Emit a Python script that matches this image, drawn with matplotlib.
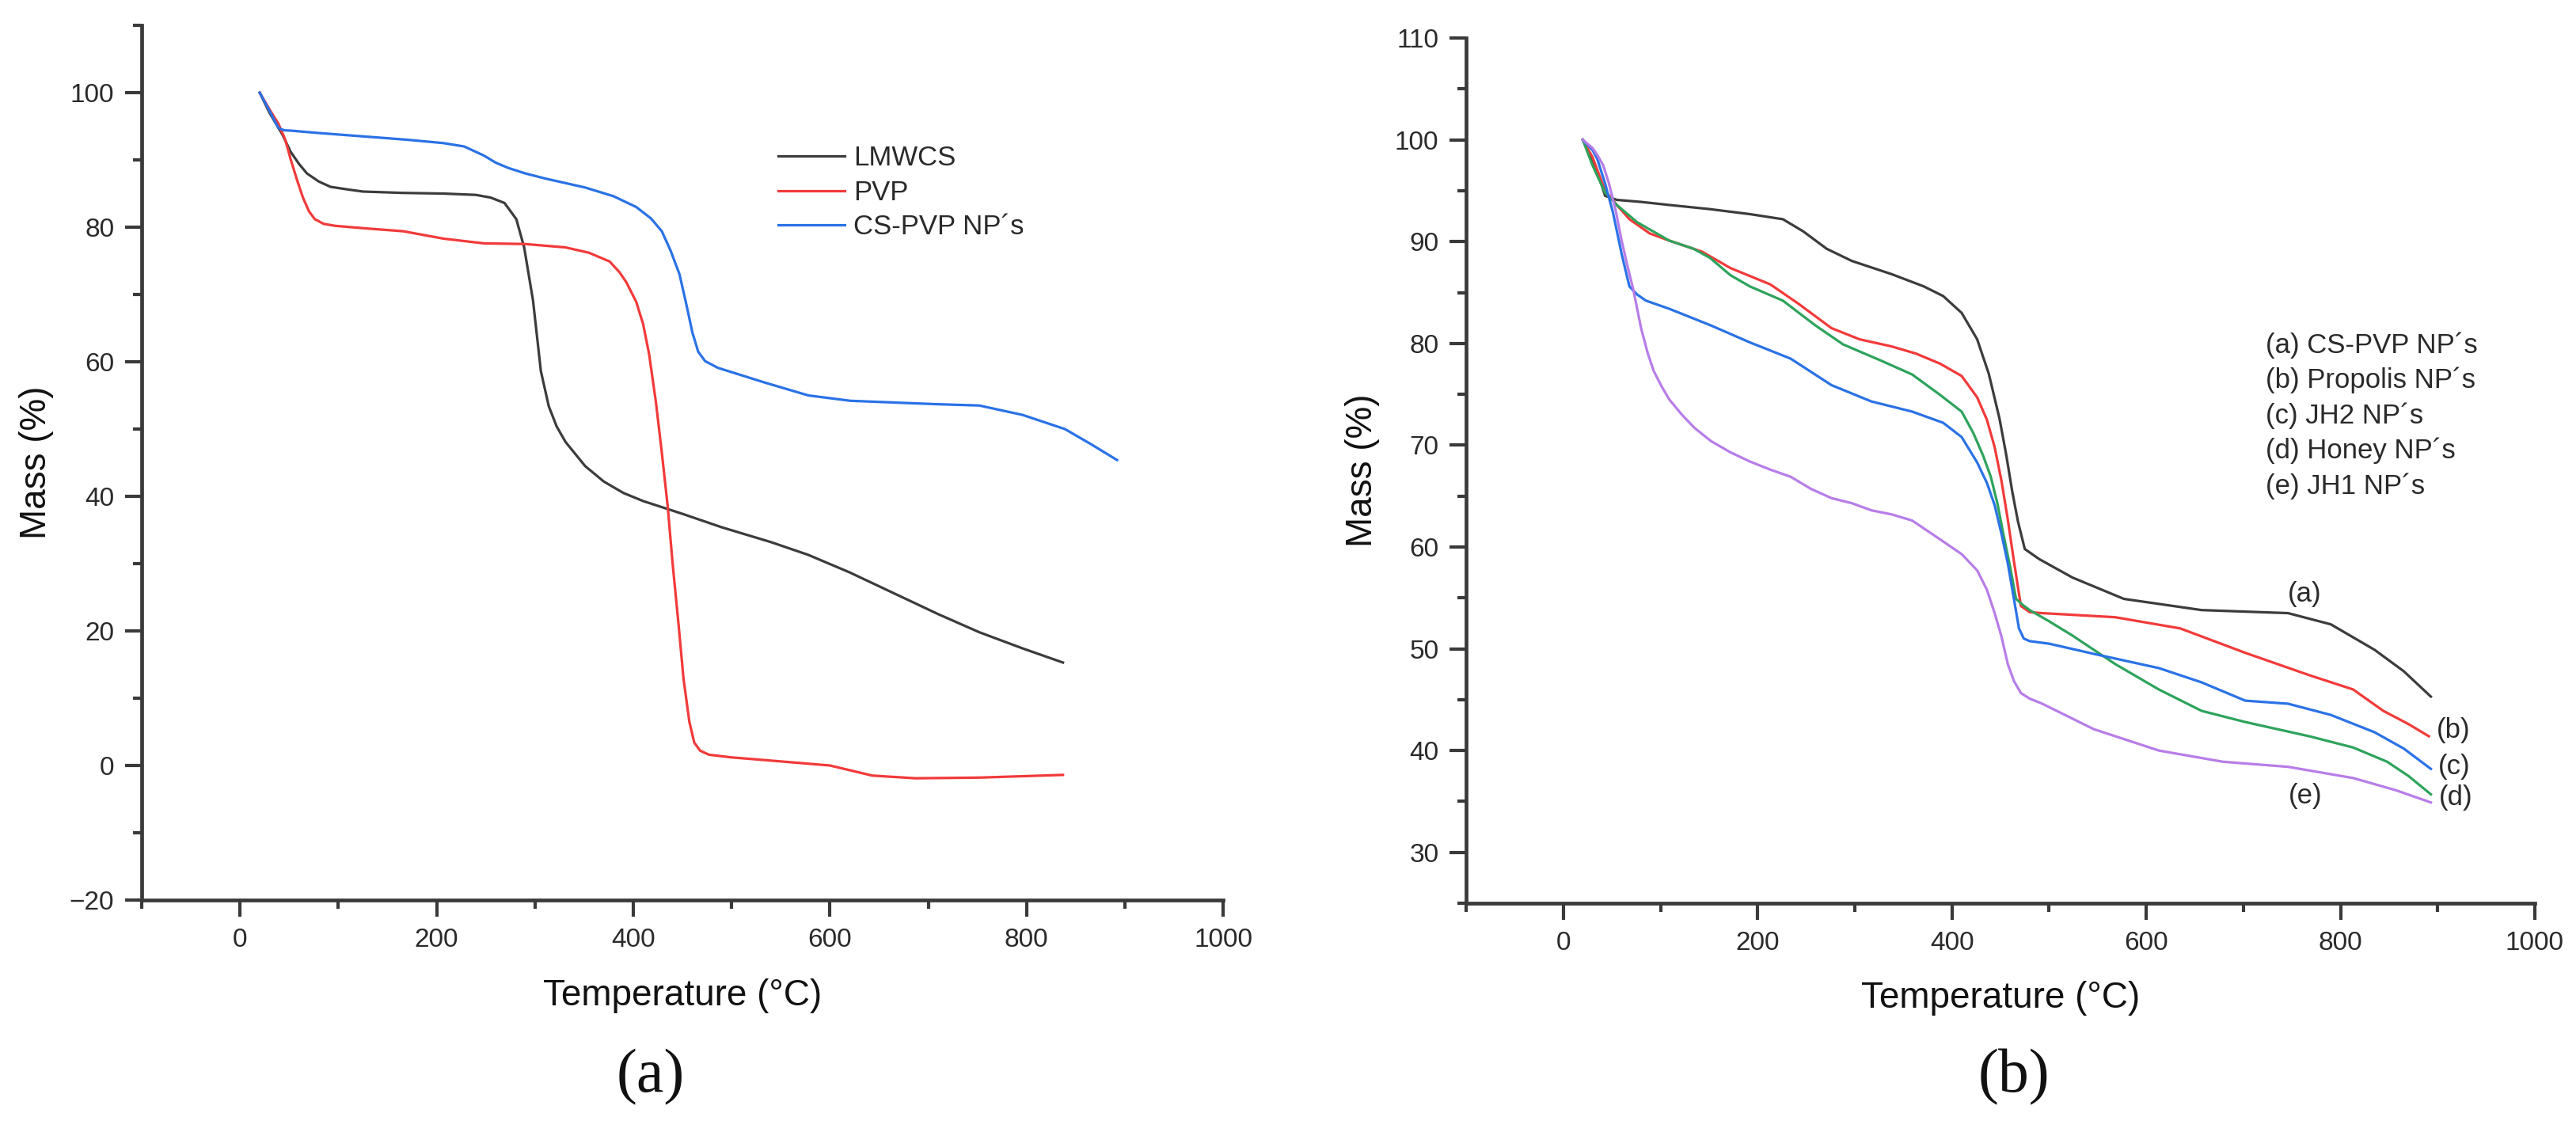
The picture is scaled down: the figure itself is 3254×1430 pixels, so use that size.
import matplotlib
matplotlib.use("Agg")
import matplotlib.pyplot as plt
from matplotlib.ticker import MultipleLocator

# ----------------------------
# Data
# ----------------------------
# Panel (a)
lmwcs_t = [20, 30, 43, 51.5, 60, 68, 80, 92, 110, 125, 165, 207, 240, 255, 269, 281,
           289, 298, 306, 314, 322, 331, 351, 370, 390, 410, 450, 490, 540, 578, 620, 665,
           710, 752, 796, 837]
lmwcs_m = [100, 97, 93.8, 91.2, 89.4, 88, 86.8, 86, 85.6, 85.3, 85.1, 85, 84.8, 84.4, 83.6,
           81.2, 77, 69.1, 58.6, 53.4, 50.4, 48.1, 44.5, 42.2, 40.5, 39.3, 37.4, 35.4, 33.2,
           31.3, 28.7, 25.6, 22.5, 19.8, 17.4, 15.3]

pvp_t = [20, 30, 39, 46, 51.5, 58, 64, 70, 76, 85, 97, 130, 166, 207, 248, 290, 331, 355,
         376, 386, 393, 403, 410, 416, 423, 429, 435, 440, 446, 451, 457, 462, 468, 477,
         500, 534, 600, 643, 687, 752, 837]
pvp_m = [100, 97.5, 95.4, 93, 90.1, 87, 84.4, 82.4, 81.2, 80.5, 80.2, 79.8, 79.4, 78.3,
         77.6, 77.5, 77.0, 76.2, 74.9, 73.3, 71.8, 68.9, 65.6, 61.2, 54.0, 46.5, 38.5, 30.0,
         21.0, 13.0, 6.5, 3.4, 2.2, 1.6, 1.2, 0.8, 0.0, -1.5, -1.9, -1.8, -1.4]

cspvp_t = [20, 30, 39, 45, 52, 80, 125, 170, 207, 228, 248, 260, 273, 290, 310, 351, 380,
           403, 418, 429, 438, 447, 454, 460, 466, 473, 486, 510, 534, 578, 621, 708, 752,
           796, 839, 865, 892]
cspvp_m = [100, 97.3, 94.75, 94.4, 94.35, 94.0, 93.5, 93.0, 92.5, 92, 90.65, 89.6, 88.8,
           88.0, 87.25, 85.9, 84.6, 83.0, 81.3, 79.4, 76.5, 73, 68.5, 64.4, 61.5, 60.1, 59.1,
           58.0, 56.9, 55, 54.2, 53.7, 53.5, 52.1, 50, 47.8, 45.4]

labels_a = ["LMWCS", "PVP", "CS-PVP NP\u00b4s"]

# Panel (b)
cs_t = [20, 30, 38, 43, 55, 80, 109, 150, 192, 226, 247, 271, 297, 338, 371, 391, 410, 426,
        438, 449, 456, 462, 468, 475, 490, 524, 577, 657, 746, 790, 835, 865, 893]
cs_m = [100, 98, 96, 94.5, 94.1, 93.9, 93.6, 93.2, 92.7, 92.2, 91.0, 89.3, 88.1, 86.8, 85.6,
        84.65, 83, 80.4, 77, 72.6, 69, 65.5, 62.5, 59.8, 58.8, 57.0, 54.9, 53.8, 53.5, 52.4,
        49.9, 47.8, 45.3]

prop_t = [20, 30, 43, 55, 68, 89, 109, 143, 172, 213, 242, 276, 305, 338, 363, 388, 410,
          426, 436, 444, 451, 457.5, 464, 471, 480, 493, 568, 635, 702, 768, 813, 844, 870, 891]
prop_m = [100, 98.3, 95, 93.6, 92.2, 90.8, 90.1, 89.0, 87.4, 85.8, 83.9, 81.5, 80.4, 79.7,
          79.0, 78.0, 76.8, 74.7, 72.5, 69.8, 66.5, 62.7, 58.5, 54.2, 53.6, 53.5, 53.1, 52.0,
          49.6, 47.4, 46.0, 43.9, 42.6, 41.4]

jh2_t = [20, 30, 35, 43, 51, 60, 68, 76, 85, 109, 151, 192, 234, 276, 317, 359, 391, 410,
         426, 436, 444, 451, 457.5, 464, 469, 474, 480, 500, 546, 613, 657, 702, 746, 790,
         835, 865, 893]
jh2_m = [100, 99, 98.1, 95.7, 92.9, 88.8, 85.6, 84.8, 84.2, 83.4, 81.8, 80.1, 78.5, 75.9,
         74.3, 73.3, 72.2, 70.8, 68.3, 66.3, 64.1, 61.3, 58.4, 54.8, 52.0, 51.0, 50.75, 50.5,
         49.5, 48.1, 46.7, 44.9, 44.6, 43.5, 41.8, 40.2, 38.2]

honey_t = [20, 30, 43, 55, 76, 109, 134, 151, 172, 192, 226, 259, 288, 326, 359, 387, 410,
           422, 432, 440, 447, 453, 460, 466, 473, 480, 500, 524, 568, 613, 657, 702, 768,
           813, 848, 870, 893]
honey_m = [100, 97.5, 94.8, 93.6, 91.9, 90.1, 89.3, 88.4, 86.7, 85.6, 84.2, 81.8, 79.9,
           78.35, 76.95, 75.0, 73.3, 71.2, 69, 66.9, 64.2, 61.25, 58, 54.9, 54.3, 53.8, 52.7,
           51.3, 48.5, 46.0, 43.9, 42.8, 41.4, 40.3, 38.9, 37.5, 35.7]

jh1_t = [20, 30, 35, 41, 47, 54, 60, 66, 72, 80, 87, 93, 101, 109, 122, 135, 152, 172, 192,
         213, 234, 255, 276, 297, 317, 338, 359, 387, 410, 426, 436, 444, 451, 457.5, 464,
         471, 480, 493, 546, 613, 679, 746, 813, 857, 893]
jh1_m = [100, 99.2, 98.5, 97.5, 95.7, 93, 90.1, 87.6, 85.3, 81.5, 79, 77.3, 75.8, 74.5, 73,
         71.7, 70.4, 69.3, 68.4, 67.6, 66.9, 65.7, 64.8, 64.3, 63.6, 63.2, 62.6, 60.8, 59.3,
         57.7, 55.8, 53.5, 51.2, 48.5, 46.8, 45.65, 45.1, 44.6, 42.1, 40.0, 38.9, 38.4, 37.3,
         36.1, 34.9]

labels_b = ["(a) CS-PVP NP\u00b4s", "(b) Propolis NP\u00b4s", "(c) JH2 NP\u00b4s",
            "(d) Honey NP\u00b4s", "(e) JH1 NP\u00b4s"]
tags_b = ["(a)", "(b)", "(c)", "(d)", "(e)"]
tag_x = [763, 916, 917, 919, 764]
tag_y = [55.4, 42.0, 38.4, 35.35, 35.5]

# ----------------------------
# Style
# ----------------------------
plt.rcParams['font.family'] = ['Liberation Sans', 'DejaVu Sans']
AX_COL = "#3a3a3a"
TXT_COL = "#2a2a2a"
BLACK = "#3c3c3c"
RED = "#f23a3a"
BLUE = "#2a72e6"
GREEN = "#2ea35c"
PURPLE = "#b77de8"
LW = 2.3


def style_axes(ax):
    for side in ["top", "right"]:
        ax.spines[side].set_visible(False)
    for side in ["left", "bottom"]:
        ax.spines[side].set_linewidth(3.4)
        ax.spines[side].set_color(AX_COL)
    ax.tick_params(which="major", direction="out", length=15, width=3, color=AX_COL,
                   labelsize=24, labelcolor=TXT_COL, pad=10)
    ax.tick_params(which="minor", direction="out", length=8, width=3, color=AX_COL)
    ax.set_xlabel("Temperature (\u00b0C)", fontsize=33, color="#111111")
    ax.set_ylabel("Mass (%)", fontsize=33, color="#111111")
    ax.xaxis.set_label_coords(0.5, -0.09)
    ax.yaxis.set_label_coords(-0.081, 0.5)


fig = plt.figure(figsize=(32.55, 14.3), dpi=100)

# ----------------------------
# Panel (a)
# ----------------------------
ax1 = fig.add_axes([0.0550, 0.2049, 0.4197, 0.7727])
ax1.plot(lmwcs_t, lmwcs_m, color=BLACK, lw=LW, label=labels_a[0])
ax1.plot(pvp_t, pvp_m, color=RED, lw=LW, label=labels_a[1])
ax1.plot(cspvp_t, cspvp_m, color=BLUE, lw=LW, label=labels_a[2])
ax1.set_xlim(-100, 1000)
ax1.set_ylim(-20, 110)
ax1.xaxis.set_major_locator(MultipleLocator(200))
ax1.xaxis.set_minor_locator(MultipleLocator(100))
ax1.set_yticks([-20, 0, 20, 40, 60, 80, 100])
ax1.yaxis.set_minor_locator(MultipleLocator(10))
style_axes(ax1)
leg = ax1.legend(loc="upper left", bbox_to_anchor=(0.5886, 0.863), frameon=False,
                 fontsize=25, handlelength=2.42, handletextpad=0.32, labelspacing=0.3,
                 borderpad=0, borderaxespad=0)
for t in leg.get_texts():
    t.set_color(TXT_COL)

fig.text(822 / 3255, 1 - 1361 / 1430, "(a)", fontsize=56, family="Liberation Serif",
         ha="center", va="center", color="#111111")

# ----------------------------
# Panel (b)
# ----------------------------
ax2 = fig.add_axes([0.5690, 0.2021, 0.4147, 0.7643])
ax2.plot(cs_t, cs_m, color=BLACK, lw=LW)
ax2.plot(prop_t, prop_m, color=RED, lw=LW)
ax2.plot(honey_t, honey_m, color=GREEN, lw=LW)
ax2.plot(jh2_t, jh2_m, color=BLUE, lw=LW)
ax2.plot(jh1_t, jh1_m, color=PURPLE, lw=LW)
ax2.set_xlim(-100, 1000)
ax2.set_ylim(25, 110)
ax2.xaxis.set_major_locator(MultipleLocator(200))
ax2.xaxis.set_minor_locator(MultipleLocator(100))
ax2.set_yticks([30, 40, 50, 60, 70, 80, 90, 100, 110])
ax2.yaxis.set_minor_locator(MultipleLocator(5))
style_axes(ax2)

for i, lab in enumerate(labels_b):
    ax2.text(0.748, 0.645 - i * 0.0407, lab, transform=ax2.transAxes, fontsize=25,
             ha="left", va="center", color=TXT_COL)

for tag, tx, ty in zip(tags_b, tag_x, tag_y):
    ax2.text(tx, ty, tag, fontsize=25, ha="center", va="center", color=TXT_COL)

fig.text(2544 / 3255, 1 - 1361 / 1430, "(b)", fontsize=56, family="Liberation Serif",
         ha="center", va="center", color="#111111")

plt.savefig("out.png", dpi=100, facecolor="white")
plt.close()
